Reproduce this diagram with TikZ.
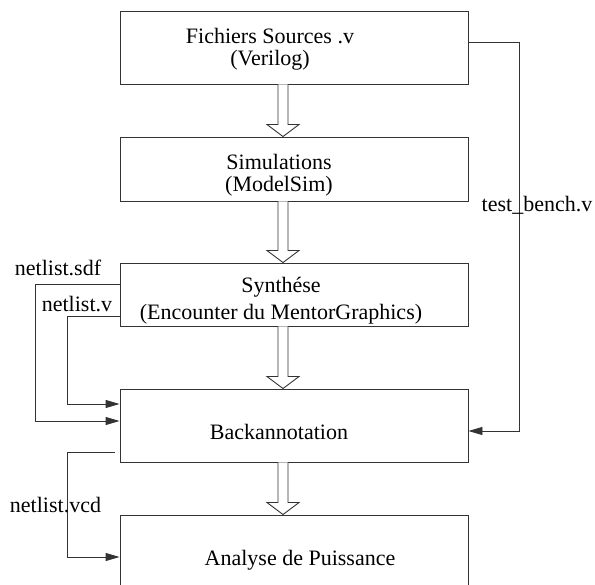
\documentclass[tikz,border=0pt]{standalone}
\usepackage{fontspec}
\setmainfont{Liberation Serif}
\usepackage{tikz}
\usetikzlibrary{calc,arrows.meta}

\tikzset{
  box/.style={draw=black!80, line width=0.9pt, minimum width=348pt, inner sep=0pt},
  txt/.style={inner sep=0pt, align=center, font=\fontsize{22}{22}\selectfont},
  lbl/.style={inner sep=0pt, anchor=base, font=\fontsize{22}{22}\selectfont},
  wire/.style={draw=black!80, line width=0.9pt, -{Triangle[length=14pt,width=8pt]}},
  fat/.style={draw=black!80, line width=0.9pt, fill=white},
}

% hollow flow arrow from bottom of #1 to top of #2
\newcommand{\flowarrow}[2]{%
  \draw[fat] ($(#1.south)+(-16,0)$) -- ($(#2.north)+(-16,-12)$)
    -- ($(#2.north)+(-27,-12)$) -- ($(#2.north)+(-11,0)$)
    -- ($(#2.north)+(5,-12)$) -- ($(#2.north)+(-6,-12)$)
    -- ($(#1.south)+(-6,0)$);}

\begin{document}
\begin{tikzpicture}[x=1pt,y=-1pt]
\clip (0,0) rectangle (595,585);

\node[box, minimum height=73pt] (src) at (294,47.5) {};
\node[box, minimum height=64pt] (sim) at (294,169) {};
\node[box, minimum height=63pt] (syn) at (294,294.5) {};
\node[box, minimum height=73pt] (back) at (294,425.5) {};
\node[box, minimum height=73pt] (power) at (294,551.5) {};

\node[txt] (srcT) at (270,49.5) {Fichiers Sources .v\\(Verilog)};
\node[txt] (simT) at (279,175) {Simulations\\(ModelSim)};
\node[txt] (synT) at (281,300.5) {Synthése\\[5pt](Encounter du MentorGraphics)};
\node[lbl] (backT) at (279,440) {Backannotation};
\node[lbl] (powerT) at (300,565) {Analyse de Puissance};

\flowarrow{src}{sim}
\flowarrow{sim}{syn}
\flowarrow{syn}{back}
\flowarrow{back}{power}

% fichiers annexes
\draw[wire] ([yshift=5.5pt]src.east) -- ++(51,0) |- ([yshift=-5.5pt]back.east);
\node[lbl] (tb) at (537,212) {test\_bench.v};

\draw[wire] ([yshift=10.5pt]syn.west) -- ++(-84,0) |- ([yshift=4.5pt]back.west);
\node[lbl] (sdf) at (58,276) {netlist.sdf};
\draw[wire] ([yshift=-21.5pt]syn.west) -- ++(-52,0) |- ([yshift=21.5pt]back.west);
\node[lbl] (nv) at (77,312) {netlist.v};

\draw[wire] ([xshift=-5pt,yshift=-26.5pt]back.west) -- ++(-47,0) |- ([yshift=-5.5pt]power.west);
\node[lbl] (vcd) at (55.5,512) {netlist.vcd};
\end{tikzpicture}
\end{document}
